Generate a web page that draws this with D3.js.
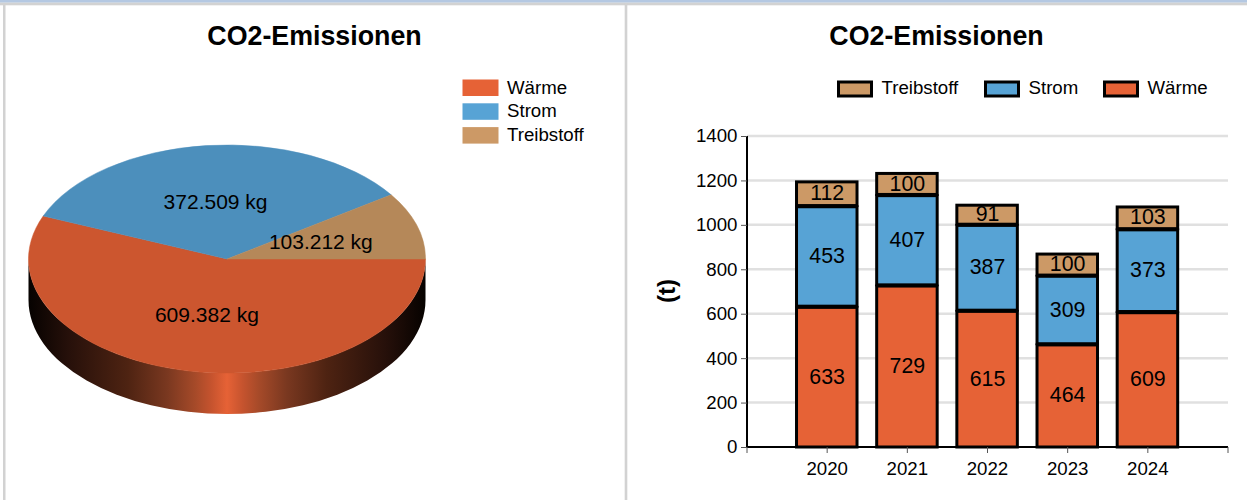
<!DOCTYPE html>
<html>
<head>
<meta charset="utf-8">
<title>CO2-Emissionen</title>
<script src="https://cdnjs.cloudflare.com/ajax/libs/d3/7.8.5/d3.min.js"></script>
<style>
html, body { margin: 0; padding: 0; background: #fff; overflow: hidden; }
text { font-family: "Liberation Sans", Arial, sans-serif; fill: #000; }
</style>
</head>
<body>
<svg id="chart" width="1247" height="500"></svg>
<script>
// pie values (kg)
const pieNames = ["Wärme", "Strom", "Treibstoff"];
const pieValues = [609382, 372509, 103212];
const pieLabels = ["609.382 kg", "372.509 kg", "103.212 kg"];

// stacked bars (t)
const years = ["2020", "2021", "2022", "2023", "2024"];
const waerme = [633, 729, 615, 464, 609];
const strom = [453, 407, 387, 309, 373];
const treibstoff = [112, 100, 91, 100, 103];
const yTicks = [0, 200, 400, 600, 800, 1000, 1200, 1400];

const legendColors = {"Wärme": "#e66236", "Strom": "#57a3d5", "Treibstoff": "#cc9966"};
const topColors = {"Wärme": "#cc562f", "Strom": "#4c8fbc", "Treibstoff": "#b58859"};

const svg = d3.select("#chart");

// frame
svg.append("rect").attr("width", 1247).attr("height", 2.7).attr("fill", "#b4c8e2");
svg.append("rect").attr("y", 2.7).attr("width", 1247).attr("height", 2.6).attr("fill", "#d2d2d2");
svg.append("rect").attr("x", 3).attr("y", 3).attr("width", 2.5).attr("height", 497).attr("fill", "#d2d2d2");
svg.append("rect").attr("x", 624.7).attr("y", 3).attr("width", 2.6).attr("height", 497).attr("fill", "#d2d2d2");

svg.append("text").attr("x", 314.5).attr("y", 45).attr("text-anchor", "middle")
  .style("font-size", "26.8px").style("font-weight", "bold").text("CO2-Emissionen");
svg.append("text").attr("x", 936.5).attr("y", 45).attr("text-anchor", "middle")
  .style("font-size", "26.8px").style("font-weight", "bold").text("CO2-Emissionen");

// ---- pie ----
const cx = 227, cy = 259, rx = 198.5, ry = 114, depth = 41;

const defs = svg.append("defs");
const grad = defs.append("linearGradient").attr("id", "side")
  .attr("gradientUnits", "userSpaceOnUse")
  .attr("x1", cx - rx).attr("x2", cx + rx).attr("y1", 0).attr("y2", 0);
[[0, "#060200"], [0.1, "#26100a"], [0.25, "#4e2312"], [0.35, "#7a3820"],
 [0.42, "#a64a29"], [0.46, "#c5532e"], [0.5, "#e66236"], [0.54, "#c5532e"], [0.58, "#a64a29"],
 [0.65, "#7a3820"], [0.75, "#4e2312"], [0.9, "#26100a"], [1, "#060200"]].forEach(s => {
  grad.append("stop").attr("offset", s[0]).attr("stop-color", s[1]);
});

// side wall: lower half of the ellipse pushed down by depth
svg.append("path")
  .attr("d", `M${cx - rx},${cy} A${rx},${ry} 0 0 0 ${cx + rx},${cy} L${cx + rx},${cy + depth} A${rx},${ry} 0 0 1 ${cx - rx},${cy + depth} Z`)
  .attr("fill", "url(#side)");

const pie = d3.pie().sort(null).startAngle(Math.PI / 2).endAngle(Math.PI * 2.5);
const arcs = pie(pieValues);
const arc = d3.arc().innerRadius(0).outerRadius(1);

const pieG = svg.append("g").attr("transform", `translate(${cx},${cy}) scale(${rx},${ry})`);
pieG.selectAll("path").data(arcs).join("path")
  .attr("d", arc)
  .attr("fill", (d, i) => topColors[pieNames[i]])
  .attr("stroke", (d, i) => topColors[pieNames[i]])
  .attr("stroke-width", 0.5).attr("vector-effect", "non-scaling-stroke");

svg.append("g").selectAll("text").data(arcs).join("text")
  .attr("x", d => cx + arc.centroid(d)[0] * rx - 1)
  .attr("y", d => cy + arc.centroid(d)[1] * ry + 7)
  .attr("text-anchor", "middle")
  .style("font-size", "21px")
  .text((d, i) => pieLabels[i]);

const pieLegend = svg.append("g").selectAll("g").data(pieNames).join("g")
  .attr("transform", (d, i) => `translate(462.5,${79.5 + i * 23.8})`);
pieLegend.append("rect").attr("width", 36).attr("height", 16.5).attr("fill", d => legendColors[d]);
pieLegend.append("text").attr("x", 44.5).attr("y", 14).style("font-size", "18.67px").text(d => d);

// ---- stacked bars ----
const x = d3.scalePoint().domain(["", ...years, " "]).range([747, 1228]);
const y = d3.scaleLinear().domain([0, 1400]).range([447, 136]);

svg.append("g").selectAll("line").data(yTicks.slice(1)).join("line")
  .attr("x1", 747).attr("x2", 1228)
  .attr("y1", d => y(d)).attr("y2", d => y(d))
  .attr("stroke", "#e0e0e0").attr("stroke-width", 2.5);

const stackData = years.map((yr, i) => ({year: yr, "Wärme": waerme[i], "Strom": strom[i], "Treibstoff": treibstoff[i]}));
const series = d3.stack().keys(pieNames)(stackData);
const barW = 60.5;

const layers = svg.append("g").selectAll("g").data(series).join("g");
layers.selectAll("rect").data(s => s.map(d => ({key: s.key, d0: d[0], d1: d[1], year: d.data.year}))).join("rect")
  .attr("x", d => x(d.year) - barW / 2 - 0.4)
  .attr("width", barW)
  .attr("y", d => y(d.d1) + 1)
  // upper segments stop a pixel short so the separator reads thicker than the outline
  .attr("height", d => y(d.d0) - y(d.d1) - (d.d0 > 0 ? 1.2 : 1))
  .attr("fill", d => legendColors[d.key])
  .attr("stroke", "#000").attr("stroke-width", 3);
layers.selectAll("text").data(s => s.map(d => ({d0: d[0], d1: d[1], year: d.data.year}))).join("text")
  .attr("x", d => x(d.year))
  .attr("y", d => (y(d.d0) + y(d.d1)) / 2 + 7)
  .attr("text-anchor", "middle")
  .style("font-size", "21.33px")
  .text(d => d.d1 - d.d0);

// axes
const yAxis = svg.append("g").attr("transform", "translate(747,0)")
  .call(d3.axisLeft(y).tickValues(yTicks).tickSize(6).tickPadding(3).tickFormat(d3.format("d")));
yAxis.selectAll("text").style("font-size", "18.67px").attr("dx", "-0.5");
yAxis.selectAll(".tick line").attr("stroke", "#555");
yAxis.select(".domain").attr("stroke", "#000").attr("stroke-width", 2).attr("d", "M0,136V447");

const xAxis = svg.append("g").attr("transform", "translate(0,447)");
xAxis.append("line").attr("x1", 747).attr("x2", 1228).attr("stroke", "#000").attr("stroke-width", 2);
xAxis.selectAll(".t").data(x.domain()).join("line").attr("class", "t")
  .attr("x1", d => x(d)).attr("x2", d => x(d)).attr("y1", 0).attr("y2", 6).attr("stroke", "#555");
xAxis.selectAll("text").data(years).join("text")
  .attr("x", d => x(d)).attr("y", 27.5)
  .attr("text-anchor", "middle").style("font-size", "18.67px").text(d => d);

svg.append("text").attr("transform", "translate(674.5,291) rotate(-90)")
  .attr("text-anchor", "middle").style("font-size", "24px").style("font-weight", "bold").text("(t)");

// legend on top of the bar chart
const barLegend = [["Treibstoff", 838.5], ["Strom", 985.5], ["Wärme", 1104.5]];
const bl = svg.append("g").selectAll("g").data(barLegend).join("g")
  .attr("transform", d => `translate(${d[1]},82)`);
bl.append("rect").attr("width", 33).attr("height", 14)
  .attr("fill", d => legendColors[d[0]]).attr("stroke", "#000").attr("stroke-width", 3);
bl.append("text").attr("x", 43).attr("y", 12).style("font-size", "18.67px").text(d => d[0]);
</script>
</body>
</html>
